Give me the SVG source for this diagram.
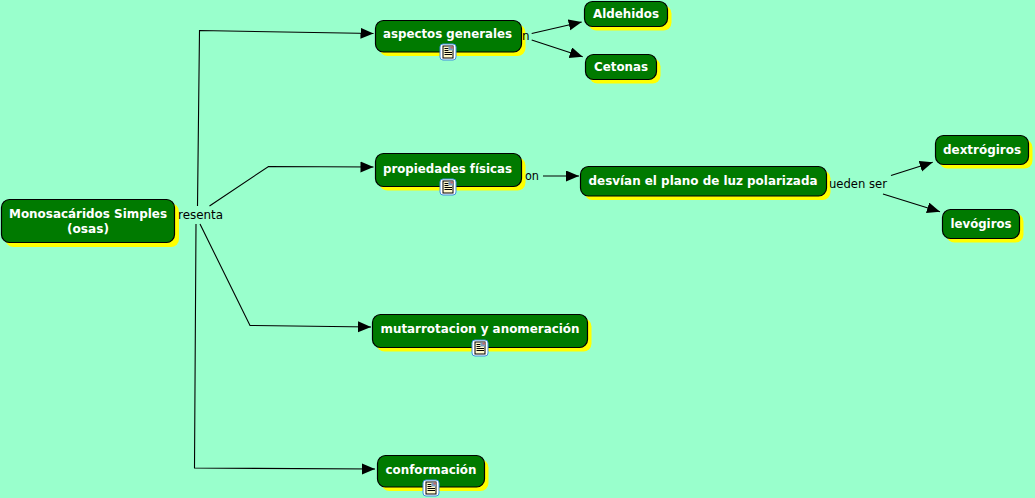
<svg xmlns="http://www.w3.org/2000/svg" width="1035" height="498" viewBox="0 0 1035 498">
<style>
.s{fill:#ffff00}
.b{fill:#007a00;stroke:#000;stroke-width:1.2}
.t{font-family:"DejaVu Sans",Verdana,sans-serif;font-weight:bold;font-size:12px;fill:#fff;text-anchor:middle}
.l{font-family:"DejaVu Sans",Verdana,sans-serif;font-size:12px;fill:#000}
.c{fill:none;stroke:#000;stroke-width:1.1;marker-end:url(#a)}
</style>
<defs>
<marker id="a" markerUnits="userSpaceOnUse" markerWidth="14" markerHeight="12" refX="13" refY="5.500" orient="auto"><path d="M0 0L13 5.500L0 11Z" fill="#000"/></marker>
<g id="i">
<rect x="0.500" y="0.500" width="16" height="16" rx="3" fill="#fff" stroke="#3f8fe0"/>
<rect x="3.500" y="2.500" width="10" height="12" fill="#fff8c8" stroke="#000"/>
<path d="M5 5H9M5 7H9M5 9H12.500M5 11H12.500" stroke="#000"/>
<rect x="9" y="3" width="4.500" height="4" fill="#7a9cc0"/>
<rect x="11" y="3" width="2.500" height="2" fill="#c06a6a"/>
</g>
</defs>
<rect width="1035" height="498" fill="#99ffcc"/>
<g id="connectors">
<path class="c" d="M197.500 206L199.500 30.500L373.500 33.500"/>
<path class="c" d="M209.500 206L268.500 166.500L373.500 167"/>
<path class="c" d="M200 224L250 325.500L371 327"/>
<path class="c" d="M196 224L194.500 468L375 469"/>
<path class="c" d="M531.700 33.500L581.700 22"/>
<path class="c" d="M531.700 40L582.700 56.700"/>
<path class="c" d="M543 176H579"/>
<path class="c" d="M891 175.500L932.700 162.300"/>
<path class="c" d="M883 194L940 211.700"/>
</g>
<g id="n1"><rect class="s" x="5.500" y="203.500" width="173.500" height="43.500" rx="8"/><rect class="b" x="1.500" y="199.500" width="173" height="43" rx="8"/><text class="t" x="88" y="218" textLength="158" lengthAdjust="spacingAndGlyphs">Monosacáridos Simples</text><text class="t" x="88" y="232.500" textLength="42" lengthAdjust="spacingAndGlyphs">(osas)</text></g>
<g id="n2"><rect class="s" x="379.500" y="24.500" width="146" height="31.500" rx="8"/><rect class="b" x="375.500" y="20.500" width="146" height="31.500" rx="8"/><text class="t" x="447.500" y="37.500" textLength="129" lengthAdjust="spacingAndGlyphs">aspectos generales</text><use href="#i" x="439.500" y="43.500"/></g>
<g id="n3"><rect class="s" x="588.500" y="5.500" width="83" height="25" rx="8"/><rect class="b" x="584.500" y="1.500" width="83" height="25" rx="8"/><text class="t" x="626" y="18" textLength="66" lengthAdjust="spacingAndGlyphs">Aldehidos</text></g>
<g id="n4"><rect class="s" x="589.500" y="58.500" width="71" height="25" rx="8"/><rect class="b" x="585.500" y="54.500" width="71" height="25" rx="8"/><text class="t" x="621" y="71" textLength="54" lengthAdjust="spacingAndGlyphs">Cetonas</text></g>
<g id="n5"><rect class="s" x="379.500" y="157.500" width="146" height="33" rx="8"/><rect class="b" x="375.500" y="153.500" width="146" height="33" rx="8"/><text class="t" x="447.500" y="172.500" textLength="129" lengthAdjust="spacingAndGlyphs">propiedades físicas</text><use href="#i" x="439.500" y="178.500"/></g>
<g id="n6"><rect class="s" x="584.500" y="170.500" width="246" height="29.500" rx="8"/><rect class="b" x="580.500" y="166.500" width="246" height="29.500" rx="8"/><text class="t" x="703" y="185" textLength="229" lengthAdjust="spacingAndGlyphs">desvían el plano de luz polarizada</text></g>
<g id="n7"><rect class="s" x="939.500" y="139.500" width="93" height="29" rx="8"/><rect class="b" x="935.500" y="135.500" width="93" height="29" rx="8"/><text class="t" x="982" y="154" textLength="78" lengthAdjust="spacingAndGlyphs">dextrógiros</text></g>
<g id="n8"><rect class="s" x="946.500" y="213.500" width="77" height="29" rx="8"/><rect class="b" x="942.500" y="209.500" width="77" height="29" rx="8"/><text class="t" x="981" y="228" textLength="61" lengthAdjust="spacingAndGlyphs">levógiros</text></g>
<g id="n9"><rect class="s" x="376.500" y="318.500" width="215" height="33" rx="8"/><rect class="b" x="372.500" y="314.500" width="215" height="33" rx="8"/><text class="t" x="480" y="333" textLength="199" lengthAdjust="spacingAndGlyphs">mutarrotacion y anomeración</text><use href="#i" x="471.500" y="339.500"/></g>
<g id="n10"><rect class="s" x="381.500" y="459.500" width="107" height="31.500" rx="8"/><rect class="b" x="377.500" y="455.500" width="107" height="31.500" rx="8"/><text class="t" x="431" y="474" textLength="91" lengthAdjust="spacingAndGlyphs">conformación</text><use href="#i" x="422.500" y="479.500"/></g>
<g id="labels">
<text class="l" x="178" y="219" textLength="45" lengthAdjust="spacingAndGlyphs">resenta</text>
<text class="l" x="522" y="40">n</text>
<text class="l" x="525" y="180" textLength="14" lengthAdjust="spacingAndGlyphs">on</text>
<text class="l" x="829" y="188" textLength="58" lengthAdjust="spacingAndGlyphs">ueden ser</text>
</g>
</svg>
